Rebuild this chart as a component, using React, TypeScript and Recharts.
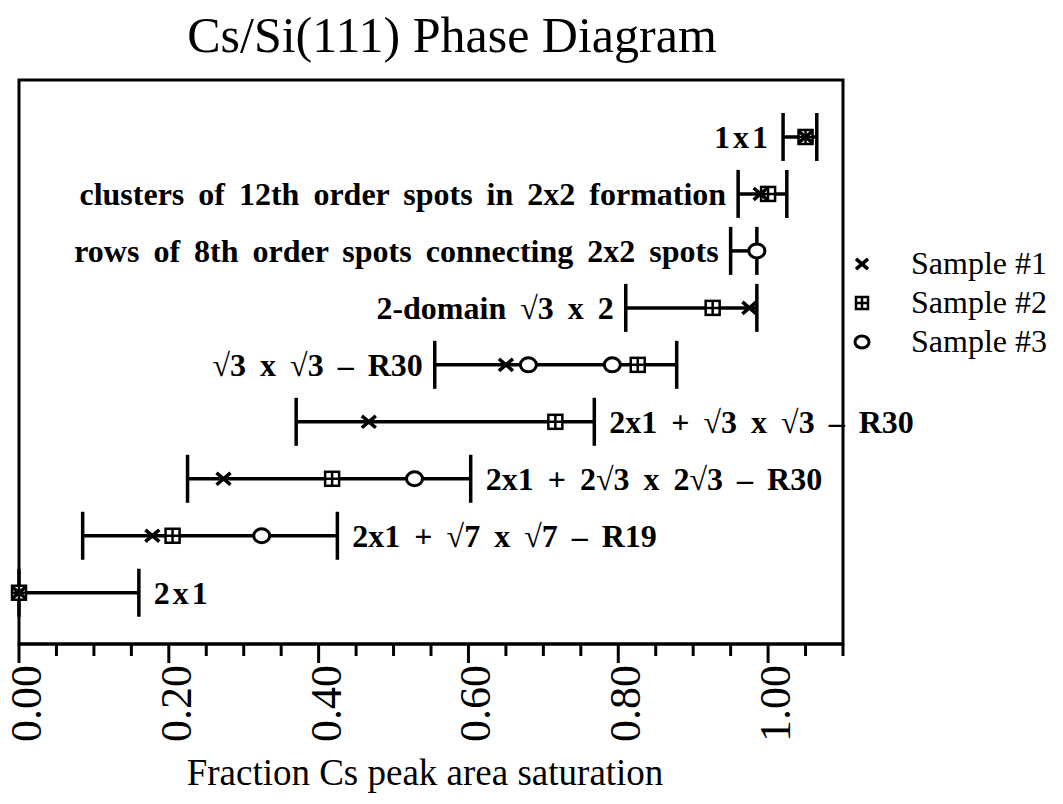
import { ComposedChart, Scatter, XAxis, YAxis, ErrorBar, ReferenceArea } from "recharts";

const SERIF = '"Liberation Serif", "Times New Roman", serif';

// phases from top (row 1) to bottom (row 9)
const phaseLabels = [
  "1x1",
  "clusters of 12th order spots in 2x2 formation",
  "rows of 8th order spots connecting 2x2 spots",
  "2-domain √3 x 2",
  "√3 x √3 – R30",
  "2x1 + √3 x √3 – R30",
  "2x1 + 2√3 x 2√3 – R30",
  "2x1 + √7 x √7 – R19",
  "2x1",
];
const rangeLow = [1.02, 0.96, 0.95, 0.81, 0.555, 0.37, 0.225, 0.085, 0.0];
const rangeHigh = [1.065, 1.025, 0.985, 0.985, 0.878, 0.768, 0.603, 0.425, 0.16];

// [row, fraction of saturation]
const sample1 = [[1, 1.05], [2, 0.99], [4, 0.975], [5, 0.65], [6, 0.467], [7, 0.273], [8, 0.178], [9, 0]];
const sample2 = [[1, 1.05], [2, 1.0], [4, 0.926], [5, 0.826], [6, 0.716], [7, 0.418], [8, 0.205], [9, 0]];
const sample3 = [[3, 0.985], [5, 0.68], [5, 0.792], [7, 0.528], [8, 0.324]];

const sampleNames = ["Sample #1", "Sample #2", "Sample #3"];

const xTicks = [0, 0.05, 0.1, 0.15, 0.2, 0.25, 0.3, 0.35, 0.4, 0.45, 0.5, 0.55, 0.6, 0.65, 0.7, 0.75, 0.8, 0.85, 0.9, 0.95, 1.0, 1.05, 1.1];
const xTickLabels: Record<string, string> = { "0": "0.00", "0.2": "0.20", "0.4": "0.40", "0.6": "0.60", "0.8": "0.80", "1": "1.00" };

const rangeData = phaseLabels.map((label, i) => {
  const mid = (rangeLow[i] + rangeHigh[i]) / 2;
  return { x: mid, y: i + 1, err: [mid - rangeLow[i], rangeHigh[i] - mid] };
});
const leftLabels = phaseLabels.slice(0, 5).map((label, i) => ({ x: rangeLow[i], y: i + 1, label }));
const rightLabels = phaseLabels.slice(5).map((label, j) => ({ x: rangeHigh[j + 5], y: j + 6, label }));

const toPoints = (rows: number[][]) => rows.map(([row, v]) => ({ x: v, y: row }));

function CrossMark({ cx, cy, half = 7 }: any) {
  const h = half * 0.85;
  return (
    <path
      d={`M${cx - half},${cy - h}L${cx + half},${cy + h}M${cx - half},${cy + h}L${cx + half},${cy - h}`}
      stroke="#000"
      strokeWidth={3.5}
      fill="none"
    />
  );
}

function SquareMark({ cx, cy, half = 7 }: any) {
  return (
    <g stroke="#000" strokeWidth={2.5}>
      <rect x={cx - half} y={cy - half} width={half * 2} height={half * 2} fill="#fff" />
      <path d={`M${cx},${cy - half}V${cy + half}M${cx - half},${cy}H${cx + half}`} fill="none" />
    </g>
  );
}

function CircleMark({ cx, cy, half = 7 }: any) {
  return <ellipse cx={cx} cy={cy} rx={half + 1} ry={half} fill="#fff" stroke="#000" strokeWidth={3} />;
}

const phaseLabelStyle = { fontFamily: SERIF, fontWeight: "bold" as const, fontSize: 32, wordSpacing: 6 };

function LeftLabel({ cx, cy, payload }: any) {
  return (
    <text x={cx - 12} y={cy} textAnchor="end" dominantBaseline="central" fill="#000" {...phaseLabelStyle}
      letterSpacing={payload.label.length <= 3 ? 3 : 0}>
      {payload.label}
    </text>
  );
}

function RightLabel({ cx, cy, payload }: any) {
  return (
    <text x={cx + 15} y={cy} textAnchor="start" dominantBaseline="central" fill="#000" {...phaseLabelStyle}
      letterSpacing={payload.label.length <= 3 ? 3 : 0}>
      {payload.label}
    </text>
  );
}

// minor ticks every 0.05, long ticks with rotated labels every 0.2
function FractionTick({ x, y, payload }: any) {
  const v = Number(payload.value.toFixed(2));
  const text = xTickLabels[String(v)];
  return (
    <g>
      <line x1={x} y1={y} x2={x} y2={y + (text ? 19 : 12)} stroke="#000" strokeWidth={3} />
      {text && (
        <text
          transform={`translate(${x + 22},${y + 21}) rotate(-90)`}
          textAnchor="end"
          fill="#000"
          fontFamily={SERIF}
          fontSize={44}
        >
          {text}
        </text>
      )}
    </g>
  );
}

const legendMarks = [CrossMark, SquareMark, CircleMark];

export default function App() {
  return (
    <div style={{ position: "absolute", left: 0, top: 0, width: 1063, height: 804, background: "#fff", fontFamily: SERIF }}>
      <div style={{ position: "absolute", left: 0, width: 904, top: 4, textAlign: "center", fontSize: 50, lineHeight: "62px" }}>
        Cs/Si(111) Phase Diagram
      </div>
      <ComposedChart width={1063} height={804} margin={{ top: 80, right: 220, bottom: 0, left: 19 }}>
        <XAxis
          type="number"
          dataKey="x"
          domain={[0, 1.1]}
          ticks={xTicks}
          interval={0}
          axisLine={{ stroke: "#000", strokeWidth: 3 }}
          tickLine={false}
          tickSize={0}
          tickMargin={0}
          height={160}
          tick={<FractionTick />}
        />
        <YAxis type="number" dataKey="y" domain={[0, 9.9]} reversed hide />
        <ReferenceArea x1={0} x2={1.1} y1={0} y2={9.9} fill="none" stroke="#000" strokeWidth={3} ifOverflow="visible" />
        <Scatter data={rangeData} shape={() => <g />} isAnimationActive={false}>
          <ErrorBar dataKey="err" direction="x" width={24} strokeWidth={3.5} stroke="#000" isAnimationActive={false} />
        </Scatter>
        <Scatter data={toPoints(sample3)} shape={(p: any) => <CircleMark cx={p.cx} cy={p.cy} />} isAnimationActive={false} />
        <Scatter data={toPoints(sample2)} shape={(p: any) => <SquareMark cx={p.cx} cy={p.cy} />} isAnimationActive={false} />
        <Scatter data={toPoints(sample1)} shape={(p: any) => <CrossMark cx={p.cx} cy={p.cy} />} isAnimationActive={false} />
        <Scatter data={leftLabels} shape={<LeftLabel />} isAnimationActive={false} />
        <Scatter data={rightLabels} shape={<RightLabel />} isAnimationActive={false} />
      </ComposedChart>
      <div style={{ position: "absolute", left: 125, width: 600, top: 750, textAlign: "center", fontSize: 37, lineHeight: "46px" }}>
        Fraction Cs peak area saturation
      </div>
      <div style={{ position: "absolute", left: 849, top: 244 }}>
        {sampleNames.map((name, i) => {
          const Mark = legendMarks[i];
          return (
            <div key={name} style={{ display: "flex", alignItems: "center", height: 39 }}>
              <svg width={26} height={26}>
                <Mark cx={13} cy={13} half={6} />
              </svg>
              <span style={{ marginLeft: 36, fontSize: 32 }}>{name}</span>
            </div>
          );
        })}
      </div>
    </div>
  );
}
